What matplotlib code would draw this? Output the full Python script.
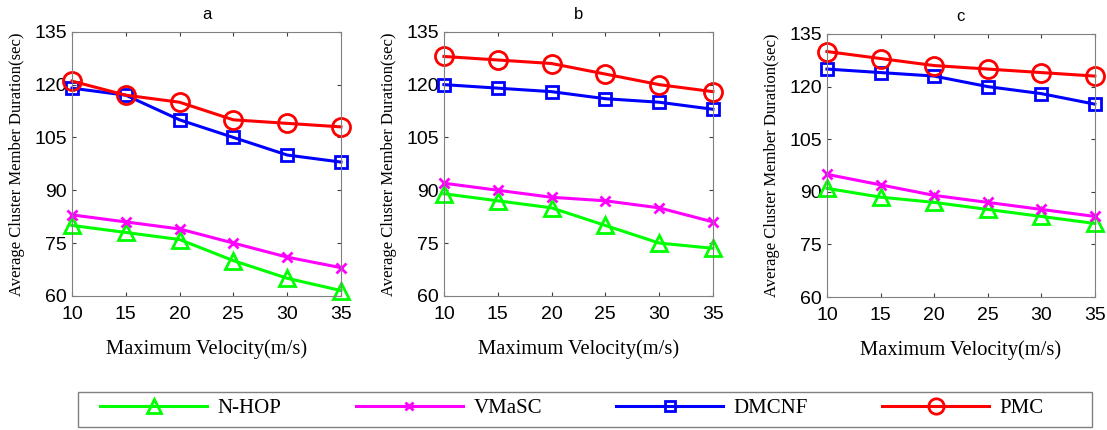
import matplotlib.pyplot as plt
from matplotlib.patches import Rectangle

# velocidades (m/s)
velocity = [10, 15, 20, 25, 30, 35]

# a
nhop_a = [80, 78, 76, 70, 65, 61.5]
vmasc_a = [83, 81, 79, 75, 71, 68]
dmcnf_a = [119, 117, 110, 105, 100, 98]
pmc_a = [121, 117, 115, 110, 109, 108]

# b
nhop_b = [89, 87, 85, 80, 75, 73.5]
vmasc_b = [92, 90, 88, 87, 85, 81]
dmcnf_b = [120, 119, 118, 116, 115, 113]
pmc_b = [128, 127, 126, 123, 120, 118]

# c
nhop_c = [91, 88.5, 87, 85, 83, 81]
vmasc_c = [95, 92, 89, 87, 85, 83]
dmcnf_c = [125, 124, 123, 120, 118, 115]
pmc_c = [130, 128, 126, 125, 124, 123]

panel_titles = ['a', 'b', 'c']
series_names = ['N-HOP', 'VMaSC', 'DMCNF', 'PMC']
yticks = [60, 75, 90, 105, 120, 135]

panels = [
    [nhop_a, vmasc_a, dmcnf_a, pmc_a],
    [nhop_b, vmasc_b, dmcnf_b, pmc_b],
    [nhop_c, vmasc_c, dmcnf_c, pmc_c],
]

styles = [
    dict(color='#00ff00', marker='^', markersize=12),
    dict(color='#ff00ff', marker='x', markersize=7),
    dict(color='#0000ff', marker='s', markersize=9),
    dict(color='#ff0000', marker='o', markersize=13),
]

serif = ['Liberation Serif', 'DejaVu Serif']
sans = ['Liberation Sans', 'DejaVu Sans']

fig = plt.figure(figsize=(11.07, 4.30), dpi=100)

axes_pos = [
    [0.065, 0.312, 0.243, 0.614],
    [0.401, 0.312, 0.243, 0.614],
    [0.747, 0.309, 0.242, 0.612],
]

handles = []
for i, data in enumerate(panels):
    ax = fig.add_axes(axes_pos[i])
    for name, vals, st in zip(series_names, data, styles):
        ln, = ax.plot(velocity, vals, color=st['color'], marker=st['marker'],
                      markersize=st['markersize'], markerfacecolor='none',
                      markeredgecolor=st['color'], markeredgewidth=2,
                      linewidth=2.2, label=name, clip_on=False)
        if i == 0:
            handles.append(ln)
    ax.set_xlim(10, 35)
    ax.set_ylim(60, 135)
    ax.set_xticks(velocity)
    ax.set_yticks(yticks)
    ax.tick_params(direction='in', top=True, right=True, length=3,
                   labelsize=14, color='#404040')
    ax.tick_params(axis='x', pad=7)
    for lab in ax.get_xticklabels() + ax.get_yticklabels():
        lab.set_family(sans)
    for sp in ax.spines.values():
        sp.set_color('#808080')
    ax.set_xlabel('Maximum Velocity(m/s)', fontsize=14.8, family=serif, labelpad=12)
    ax.set_ylabel('Average Cluster Member Duration(sec)', fontsize=12, family=serif, labelpad=7)
    ax.set_title(panel_titles[i], fontsize=12, family=sans, pad=9)

# caixa da legenda
fig.patches.append(Rectangle((78 / 1107, 3 / 430), 1014 / 1107, 35 / 430,
                             transform=fig.transFigure, fill=False,
                             edgecolor='#808080', linewidth=1.0))

leg = fig.legend(handles, series_names, loc='center left',
                 bbox_to_anchor=(100 / 1107, 14 / 430, 944 / 1107, 16 / 430), mode='expand',
                 ncol=4, frameon=False, handlelength=5.15,
                 handletextpad=0.5, prop={'family': serif, 'size': 15},
                 borderaxespad=0, borderpad=0, markerscale=0.85)

fig.savefig('out.png', dpi=100)
